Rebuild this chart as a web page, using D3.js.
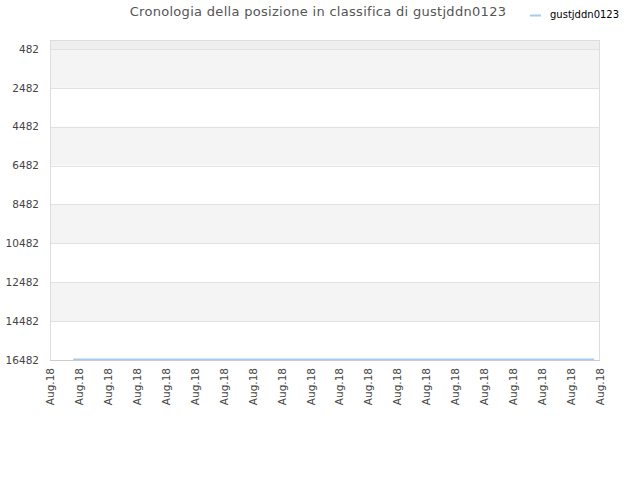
<!DOCTYPE html>
<html>
<head>
<meta charset="utf-8">
<script src="https://cdn.jsdelivr.net/npm/d3@7"></script>
<style>
  body { margin: 0; background: #fff; }
  text { font-family: "DejaVu Sans", sans-serif; }
</style>
</head>
<body>
<div id="chart"></div>
<script>
var title = "Cronologia della posizione in classifica di gustjddn0123";
var seriesName = "gustjddn0123";
var xLabels = ["Aug.18", "Aug.18", "Aug.18", "Aug.18", "Aug.18", "Aug.18", "Aug.18", "Aug.18", "Aug.18", "Aug.18",
               "Aug.18", "Aug.18", "Aug.18", "Aug.18", "Aug.18", "Aug.18", "Aug.18", "Aug.18", "Aug.18", "Aug.18"];
var yTicks = [482, 2482, 4482, 6482, 8482, 10482, 12482, 14482, 16482];
// positions along the x axis (in tick units) and rank values
var pointX = [0.8, 18.8];
var pointRank = [16440, 16440];

var width = 640, height = 480;
var margin = {top: 40, right: 40, bottom: 120, left: 50};

var svg = d3.select("#chart").append("svg")
    .attr("width", width)
    .attr("height", height);

var x = d3.scaleLinear()
    .domain([0, xLabels.length - 1])
    .range([margin.left, width - margin.right]);

var y = d3.scaleLinear()
    .domain([20, 16482])
    .range([margin.top, height - margin.bottom]);

// alternating bands
var bandEdges = [y.domain()[0]].concat(yTicks);
for (var i = 0; i < bandEdges.length - 1; i++) {
    svg.append("rect")
        .attr("x", margin.left)
        .attr("y", y(bandEdges[i]))
        .attr("width", width - margin.right - margin.left)
        .attr("height", y(bandEdges[i + 1]) - y(bandEdges[i]))
        .attr("fill", i === 0 ? "#eeeeee" : (i % 2 === 1 ? "#f4f4f4" : "#ffffff"));
}

// grid lines
svg.selectAll(".grid")
    .data(yTicks)
    .enter().append("line")
    .attr("class", "grid")
    .attr("x1", margin.left)
    .attr("x2", width - margin.right)
    .attr("y1", function(d) { return Math.round(y(d)) + 0.5; })
    .attr("y2", function(d) { return Math.round(y(d)) + 0.5; })
    .attr("stroke", "#e2e2e2")
    .attr("stroke-width", 1);

// frame
svg.append("rect")
    .attr("x", margin.left + 0.5)
    .attr("y", margin.top + 0.5)
    .attr("width", width - margin.right - margin.left - 1)
    .attr("height", height - margin.bottom - margin.top)
    .attr("fill", "none")
    .attr("stroke", "#dddddd");

svg.append("line")
    .attr("x1", margin.left)
    .attr("x2", width - margin.right)
    .attr("y1", height - margin.bottom + 0.5)
    .attr("y2", height - margin.bottom + 0.5)
    .attr("stroke", "#cccccc");

// y axis labels
svg.selectAll(".ylab")
    .data(yTicks)
    .enter().append("text")
    .attr("class", "ylab")
    .attr("x", margin.left - 11)
    .attr("y", function(d) { return y(d); })
    .attr("dy", "0.35em")
    .attr("text-anchor", "end")
    .attr("font-size", "10.5px")
    .attr("fill", "#444")
    .text(function(d) { return d; });

// x axis labels
svg.selectAll(".xlab")
    .data(xLabels)
    .enter().append("text")
    .attr("class", "xlab")
    .attr("transform", function(d, i) {
        return "translate(" + (x(i) + 4) + "," + (height - margin.bottom + 8) + ") rotate(-90)";
    })
    .attr("text-anchor", "end")
    .attr("font-size", "10.5px")
    .attr("fill", "#444")
    .text(function(d) { return d; });

// series line
var line = d3.line()
    .x(function(d, i) { return x(pointX[i]); })
    .y(function(d) { return y(d); });

svg.append("path")
    .datum(pointRank)
    .attr("d", line)
    .attr("fill", "none")
    .attr("stroke", "#a4cbf0")
    .attr("stroke-width", 1.5);

// title
svg.append("text")
    .attr("x", 318)
    .attr("y", 16)
    .attr("text-anchor", "middle")
    .attr("font-size", "13px")
    .attr("letter-spacing", "0.3px")
    .attr("fill", "#555")
    .text(title);

// legend
svg.append("line")
    .attr("x1", 530)
    .attr("x2", 541)
    .attr("y1", 15.5)
    .attr("y2", 15.5)
    .attr("stroke", "#a4cbf0")
    .attr("stroke-width", 2);

svg.append("text")
    .attr("x", 550)
    .attr("y", 18)
    .attr("font-size", "10px")
    .attr("fill", "#000")
    .text(seriesName);
</script>
</body>
</html>
